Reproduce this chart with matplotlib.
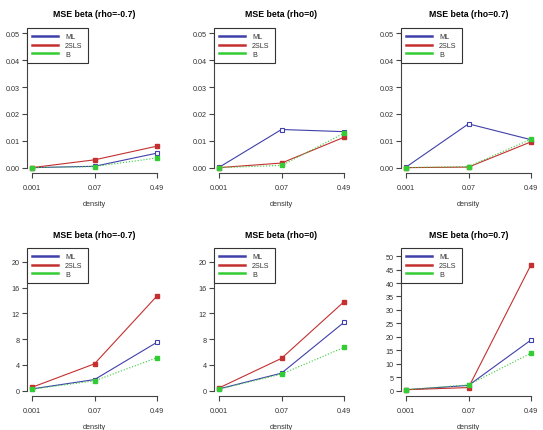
import matplotlib
matplotlib.use("Agg")
import matplotlib.pyplot as plt
from matplotlib.lines import Line2D

plt.rcParams['font.family'] = ['Liberation Sans', 'DejaVu Sans']

# x categories (equally spaced in the plot)
densities = ["0.001", "0.07", "0.49"]
rhos = ["-0.7", "0", "0.7"]

# top row: small scale MSE
ml_top = [[0.0000, 0.0005, 0.0054], [0.0001, 0.0142, 0.0134], [0.0002, 0.0163, 0.0104]]
tsls_top = [[0.0000, 0.0029, 0.0080], [0.0000, 0.0017, 0.0113], [0.0000, 0.0002, 0.0096]]
b_top = [[0.0000, 0.0004, 0.0036], [0.0000, 0.0008, 0.0128], [0.0000, 0.0004, 0.0106]]

# bottom row: large scale MSE
ml_bot = [[0.25, 1.7, 7.5], [0.25, 2.7, 10.6], [0.3, 1.9, 18.8]]
tsls_bot = [[0.5, 4.15, 14.7], [0.4, 5.0, 13.8], [0.3, 1.1, 46.8]]
b_bot = [[0.2, 1.5, 5.1], [0.2, 2.55, 6.7], [0.3, 2.1, 13.9]]

# y axis: top value (axis range max) and ticks
ymax = [[0.05, 0.05, 0.05], [21.3, 21.3, 51]]
yticks = [[[0, 0.01, 0.02, 0.03, 0.04, 0.05]] * 3,
          [[0, 4, 8, 12, 16, 20], [0, 4, 8, 12, 16, 20], list(range(0, 55, 5))]]
ytick_labels = [[["0.00", "0.01", "0.02", "0.03", "0.04", "0.05"]] * 3,
                [[str(v) for v in yticks[1][0]], [str(v) for v in yticks[1][1]],
                 [str(v) for v in yticks[1][2]]]]

col_ml = '#4040aa'
col_tsls = '#c43030'
col_b = '#33cc33'

W, H = 543, 431
fig = plt.figure(figsize=(W / 100, H / 100), dpi=100)

# plot regions in pixels
lefts = [27, 214, 401]
rows = [(29, 174), (249, 397)]
pw = 135

data = [(ml_top, tsls_top, b_top), (ml_bot, tsls_bot, b_bot)]
x = [0, 1, 2]

for r in range(2):
    top, bot = rows[r]
    for c in range(3):
        ax = fig.add_axes([lefts[c] / W, 1 - bot / H, pw / W, (bot - top) / H])
        ml, tsls, b = data[r]
        M = ymax[r][c]
        ax.plot(x, ml[c], color=col_ml, lw=0.8, marker='s', mfc='white', mec=col_ml,
                ms=3.0, mew=0.8, clip_on=False, zorder=3)
        ax.plot(x, tsls[c], color=col_tsls, lw=0.8, marker='s', mfc=col_tsls, mec=col_tsls,
                ms=3.0, clip_on=False, zorder=3)
        ax.plot(x, b[c], color=col_b, lw=0.8, ls=':', marker='s', mfc=col_b, mec=col_b,
                ms=2.8, clip_on=False, zorder=3)
        ax.set_xlim(-0.08, 2.08)
        ax.set_ylim(-0.04 * M, 1.04 * M)
        ax.set_xticks(x)
        ax.set_xticklabels(densities)
        ax.set_yticks(yticks[r][c])
        ax.set_yticklabels(ytick_labels[r][c])
        for s in ['top', 'right']:
            ax.spines[s].set_visible(False)
        ax.spines['left'].set_bounds(yticks[r][c][0], yticks[r][c][-1])
        ax.spines['bottom'].set_bounds(0, 2)
        for s in ['left', 'bottom']:
            ax.spines[s].set_color('#444444')
            ax.spines[s].set_linewidth(0.8)
        ax.tick_params(direction='out', length=3.6, width=0.8, color='#444444',
                       labelsize=5.2, labelcolor='#333333')
        ax.tick_params(axis='x', pad=4.5)
        ax.tick_params(axis='y', pad=1.5)
        ax.patch.set_visible(False)
        ax.set_title("MSE beta (rho=" + rhos[c] + ")", fontsize=6.3, fontweight='bold',
                     pad=9 if r == 0 else 8)
        ax.set_xlabel("density", fontsize=5.3, labelpad=6, color='#333333')

        handles = [Line2D([], [], color=col_ml, lw=1.8),
                   Line2D([], [], color=col_tsls, lw=1.8),
                   Line2D([], [], color=col_b, lw=1.8)]
        leg = ax.legend(handles, ["ML", "2SLS", "B"], loc='upper left',
                        bbox_to_anchor=(0, 1), borderaxespad=0, fontsize=5.2,
                        fancybox=False, framealpha=1, edgecolor='#333333',
                        handlelength=3.6, handletextpad=0.9, labelspacing=0.22,
                        borderpad=0.75)
        leg.get_frame().set_linewidth(0.8)
        for t in leg.get_texts():
            t.set_color('#333333')

fig.savefig("out.png", dpi=100)
